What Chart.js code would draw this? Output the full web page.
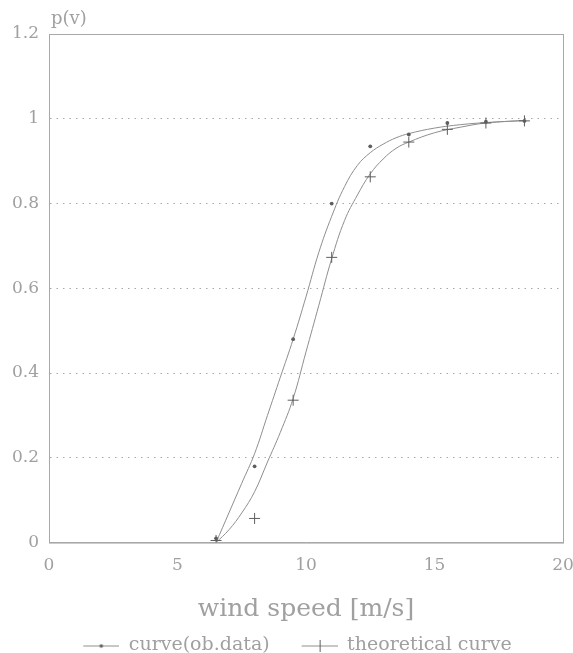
<!DOCTYPE html>
<html>
<head>
<meta charset="utf-8">
<script src="https://cdn.jsdelivr.net/npm/chart.js@4.4.1/dist/chart.umd.min.js"></script>
<style>
  html, body { margin: 0; padding: 0; background: #ffffff; }
  #wrap { width: 573px; height: 653px; position: relative; }
</style>
</head>
<body>
<div id="wrap"><canvas id="windChart"></canvas></div>
<script>
const windSpeed = [6.5, 8, 9.5, 11, 12.5, 14, 15.5, 17, 18.5];
const obsPoints = [0.01, 0.18, 0.48, 0.80, 0.935, 0.963, 0.99, 0.993, 0.995];
const theoPoints = [0.005, 0.057, 0.336, 0.673, 0.863, 0.945, 0.975, 0.99, 0.995];

// the two drawn curves
const curveSpeed = [6.5, 7, 7.5, 8, 8.5, 9, 9.5, 10, 10.5, 11, 11.5, 12, 12.5, 13, 13.5, 14, 15, 16, 17, 18.5];
const obsCurve = [0, 0.07, 0.14, 0.21, 0.30, 0.39, 0.48, 0.58, 0.685, 0.77, 0.84, 0.89, 0.92, 0.94, 0.955, 0.965, 0.978, 0.986, 0.991, 0.996];
const theoCurve = [0, 0.03, 0.07, 0.12, 0.19, 0.26, 0.34, 0.45, 0.56, 0.67, 0.76, 0.82, 0.87, 0.905, 0.93, 0.945, 0.967, 0.98, 0.99, 0.996];

const xTicks = [0, 5, 10, 15, 20];
const yTicks = [0, 0.2, 0.4, 0.6, 0.8, 1, 1.2];

const labelNames = ['curve(ob.data)', 'theoretical curve'];

const lineGray = '#8e8e8e';
const markGray = '#5e5e5e';
const textGray = '#a0a0a0';
const serif = "'DejaVu Serif', 'Liberation Serif', serif";

function toXY(xs, ys) {
    return xs.map((x, i) => ({ x: x, y: ys[i] }));
}

// legend swatches: some blank room on the left, then a line with the marker on it
function swatch(kind) {
    const c = document.createElement('canvas');
    c.width = 58;
    c.height = 12;
    const g = c.getContext('2d');
    g.strokeStyle = lineGray;
    g.lineWidth = 1;
    g.beginPath();
    g.moveTo(22, 6.5);
    g.lineTo(58, 6.5);
    g.stroke();
    if (kind === 'dot') {
        g.fillStyle = markGray;
        g.beginPath();
        g.arc(40, 6.5, 1.8, 0, Math.PI * 2);
        g.fill();
    } else {
        g.strokeStyle = markGray;
        g.beginPath();
        g.moveTo(40.5, 0);
        g.lineTo(40.5, 12);
        g.stroke();
    }
    return c;
}
const swatches = [swatch('dot'), swatch('plus')];

// frame box + p(v) label
const framePlugin = {
    id: 'frame',
    afterDatasetsDraw(chart) {
        const a = chart.chartArea;
        const ctx = chart.ctx;
        ctx.save();
        ctx.strokeStyle = '#a8a8a8';
        ctx.lineWidth = 1;
        ctx.strokeRect(a.left + 0.5, a.top + 0.5, a.right - a.left, a.bottom - a.top);
        ctx.fillStyle = textGray;
        ctx.font = '18px ' + serif;
        ctx.textAlign = 'left';
        ctx.textBaseline = 'bottom';
        ctx.fillText('p(v)', a.left + 2, a.top - 6);
        ctx.restore();
    }
};

const ctx = document.getElementById('windChart');
new Chart(ctx, {
    type: 'scatter',
    data: {
        datasets: [
            {
                label: labelNames[0],
                data: toXY(curveSpeed, obsCurve),
                showLine: true,
                borderColor: lineGray,
                borderWidth: 1,
                pointRadius: 0,
                tension: 0.4,
                order: 2
            },
            {
                label: labelNames[1],
                data: toXY(curveSpeed, theoCurve),
                showLine: true,
                borderColor: lineGray,
                borderWidth: 1,
                pointRadius: 0,
                tension: 0.4,
                order: 2
            },
            {
                label: 'obs points',
                data: toXY(windSpeed, obsPoints),
                pointStyle: 'circle',
                pointRadius: 1.9,
                backgroundColor: markGray,
                borderColor: markGray,
                borderWidth: 0,
                order: 1
            },
            {
                label: 'theo points',
                data: toXY(windSpeed, theoPoints),
                pointStyle: 'cross',
                pointRadius: 5.5,
                borderColor: markGray,
                borderWidth: 1,
                order: 1
            }
        ]
    },
    options: {
        responsive: true,
        maintainAspectRatio: false,
        animation: false,
        layout: { padding: { top: 34, right: 0, left: 0, bottom: -12 } },
        scales: {
            x: {
                type: 'linear',
                min: 0,
                max: 20,
                afterBuildTicks(scale) {
                    scale.ticks = xTicks.map(v => ({ value: v }));
                },
                afterFit(scale) {
                    scale.paddingRight = 10;
                },
                grid: { display: false, drawTicks: false },
                border: { display: true, color: '#a8a8a8' },
                ticks: {
                    color: textGray,
                    font: { family: serif, size: 17 },
                    padding: 13,
                    maxRotation: 0
                },
                title: {
                    display: true,
                    text: 'wind speed [m/s]',
                    color: textGray,
                    font: { family: serif, size: 25 },
                    padding: { top: 5, bottom: 2 }
                }
            },
            y: {
                min: 0,
                max: 1.2,
                afterBuildTicks(scale) {
                    scale.ticks = yTicks.map(v => ({ value: v }));
                },
                afterFit(scale) {
                    scale.width = 49;
                },
                grid: {
                    color: (c) => (c.tick.value === 0 || c.tick.value === 1.2) ? 'rgba(0,0,0,0)' : '#a8a8a8',
                    drawTicks: false
                },
                border: { display: true, color: '#a8a8a8', dash: [1.5, 5] },
                ticks: {
                    color: textGray,
                    font: { family: serif, size: 17 },
                    padding: 10,
                    callback: (v) => String(Math.round(v * 10) / 10)
                }
            }
        },
        plugins: {
            tooltip: { enabled: false },
            legend: {
                position: 'bottom',
                labels: {
                    usePointStyle: true,
                    pointStyleWidth: 58,
                    padding: 10,
                    color: textGray,
                    font: { family: serif, size: 19 },
                    generateLabels(chart) {
                        return labelNames.map((name, i) => ({
                            text: name,
                            pointStyle: swatches[i],
                            fillStyle: 'transparent',
                            strokeStyle: 'transparent',
                            fontColor: textGray,
                            lineWidth: 0,
                            hidden: false,
                            datasetIndex: i
                        }));
                    }
                }
            }
        }
    },
    plugins: [framePlugin]
});
</script>
</body>
</html>
